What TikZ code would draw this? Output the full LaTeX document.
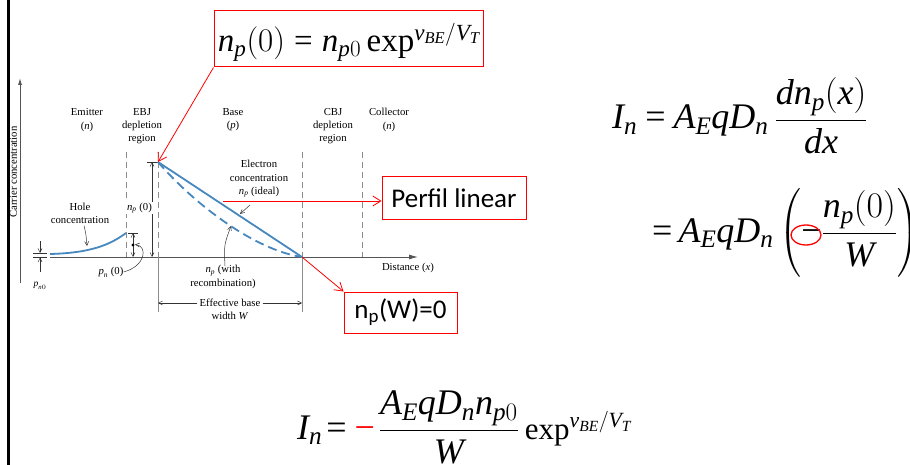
\RequirePackage{fix-cm}
\documentclass[tikz,border=0pt]{standalone}
\usepackage{amsmath}
\usepackage{fontspec}
\setmainfont{Liberation Serif}[ItalicFont={Liberation Serif Italic}]
\newfontfamily\calibri{Carlito}
\usetikzlibrary{arrows.meta,shapes.geometric}
\definecolor{cblue}{RGB}{70,135,190}
\definecolor{axgray}{RGB}{85,85,85}
\definecolor{dgray}{RGB}{140,140,140}
\newcommand\mi[1]{\textit{#1}}
\newcommand\expo{\text{exp}}
\newcommand\teq{\mathrel{\text{=}}}
\newcommand\tminus{\text{−}}
\begin{document}
\begin{tikzpicture}[x=1pt,y=-1pt,
  lbl/.style={font=\fontsize{10.7}{13.2}\selectfont, align=center, inner sep=0pt},
  blueline/.style={draw=cblue, line width=1.8pt},
  bluedash/.style={draw=cblue, line width=1.8pt, dash pattern=on 9pt off 5pt},
  gdash/.style={draw=dgray, line width=0.9pt, dash pattern=on 6pt off 4pt},
  gsolid/.style={draw=dgray, line width=0.9pt},
  axis/.style={draw=axgray, line width=0.9pt},
  dimarrow/.style={draw=black!80, line width=0.5pt, -{Straight Barb[length=4pt,width=4pt]}},
  dimboth/.style={draw=black!80, line width=0.5pt, {Straight Barb[length=4pt,width=4pt]}-{Straight Barb[length=4pt,width=4pt]}},
  redbox/.style={draw=red, line width=1pt, inner sep=0pt},
  redarrow/.style={draw=red, line width=0.8pt, -{Straight Barb[length=8pt,width=10pt]}},
  eqn/.style={font=\fontsize{36}{44}\selectfont, inner sep=0pt, anchor=base west},
]
\useasboundingbox (0,0) rectangle (910,465);

% left thick rule
\draw[line width=3pt] (8.7,0) -- (8.7,465);

% axes
\coordinate (ybot) at (20,283);
\coordinate (ytop) at (20,78);
\draw[axis, -{Latex[length=7pt,width=4pt]}] (ybot) -- (ytop);
\node[lbl, rotate=90] (carrier) at (13.5,172) {Carrier concentration};
\coordinate (xstart) at (50,257);
\coordinate (xend) at (418,257);
\draw[axis, -{Latex[length=9pt,width=5pt]}] (xstart) -- (xend);
\node[lbl] (dist) at (408,268) {Distance (\textit{x})};

% region boundaries
\draw[gdash] (126,152) -- (126,257);
\draw[gdash] (158,152) -- (158,257);
\draw[gdash] (302,152) -- (302,257);
\draw[gdash] (362,152) -- (362,257);
\draw[gsolid] (158,257) -- (158,312);
\draw[gsolid] (302,257) -- (302,312);

% region labels
\node[lbl] (emit) at (87,120) {Emitter\\(\textit{n})};
\node[lbl] (ebj) at (142,126) {EBJ\\depletion\\region};
\node[lbl] (base) at (233,120) {Base\\(\textit{p})};
\node[lbl] (cbj) at (333,126) {CBJ\\depletion\\region};
\node[lbl] (coll) at (389,120) {Collector\\(\textit{n})};

% hole concentration
\draw[blueline] (50,254) .. controls (90,253) and (110,245) .. (126,233);
\node[lbl] (hole) at (80,213) {Hole\\concentration};
\coordinate (holetip) at (87,246);
\draw[dimarrow] (hole.south) ++(4,2) .. controls (86,234) .. (holetip);

% pn0 markers
\draw[black!80, line width=0.5pt] (33,253) -- (47,253);
\draw[black!80, line width=0.5pt] (33,257.5) -- (47,257.5);
\coordinate (pa) at (40,241);
\coordinate (pb) at (40,253);
\coordinate (pc) at (40,272);
\coordinate (pd) at (40,257.5);
\draw[dimarrow] (pa) -- (pb);
\draw[dimarrow] (pc) -- (pd);
\node[lbl, font=\fontsize{9.5}{11}\selectfont] (pn0) at (40,286) {$\mi{p}_{\mi{n}0}$};

% pn(0)
\draw[black!80, line width=0.5pt] (128,233) -- (138,233);
\coordinate (pntop) at (133,233);
\coordinate (pnbot) at (133,257);
\draw[dimboth] (pntop) -- (pnbot);
\fill (133,245) circle (1.6pt);
\node[lbl] (pnlbl) at (111,272) {$\mi{p}_{\mi{n}}$ (0)};
\coordinate (pndot) at (135,244.5);
\draw[dimarrow] (pnlbl.east) .. controls (146,266) and (148,246) .. (pndot);

% np(0)
\coordinate (peak) at (158,162);
\draw[black!80, line width=0.5pt] (147,162) -- (158,162);
\coordinate (nptop) at (152,162);
\coordinate (npbot) at (152,257);
\draw[dimboth] (nptop) -- (npbot);
\node[lbl, fill=white, inner sep=1pt] (nplbl) at (139.5,208) {$\mi{n}_{\mi{p}}$ (0)};

% electron profiles
\coordinate (wend) at (302,257);
\draw[blueline] (peak) -- (wend);
\draw[bluedash] (peak) .. controls (195,205) and (255,250) .. (wend);
\node[lbl] (elec) at (259,179) {Electron\\concentration\\$\mi{n}_{\mi{p}}$ (ideal)};
\coordinate (eltip) at (240,214);
\draw[dimarrow] (250,205) -- (eltip);
\node[lbl] (recomb) at (223,277) {$\mi{n}_{\mi{p}}$ (with\\recombination)};
\coordinate (rectip) at (231,226);
\draw[dimarrow] (225,266) .. controls (224,245) .. (rectip);

% effective base width
\node[lbl, fill=white, inner sep=2pt] (eff) at (230,303) {Effective base};
\node[lbl] (effw) at (230,316) {width \textit{W}};
\coordinate (wl) at (158,303);
\coordinate (wr) at (302,303);
\draw[dimarrow] (eff.west) -- (wl);
\draw[dimarrow] (eff.east) -- (wr);

% red annotations
\node[redbox, minimum width=269pt, minimum height=56pt] (topbox) at (348.5,39) {};
\node[font=\fontsize{33}{40}\selectfont, inner sep=0pt, anchor=base] (topeq) at (349,52)
  {\thickmuskip=5mu$\mi{n}_{\mi{p}}(0)\teq\mi{n}_{\mi{p}0}\,\expo^{\mi{v}_{\mi{BE}}/\mi{V}_{\mi{T}}}$};
\draw[redarrow] (topbox.south west) -- (peak);

\node[redbox, minimum width=144pt, minimum height=43pt, font=\calibri\fontsize{27}{32}\selectfont] (perfil) at (454,198.5) {Perfil linear};
\coordinate (pstart) at (223,201);
\draw[redarrow] (pstart) -- (perfil.west |- pstart);

\node[redbox, minimum width=113pt, minimum height=41pt, font=\calibri\fontsize{27}{32}\selectfont] (npw) at (400.5,312.5) {n$_{\text{p}}$(W)=0};
\draw[redarrow] (wend) -- (npw.north west);

% right equations
\node[eqn] (eq1) at (612,129) {\thickmuskip=4mu$\mi{I}_{\mi{n}}\teq\mi{A}_{\mi{E}}\mi{q}\mi{D}_{\mi{n}}\,\dfrac{\mi{d}\mi{n}_{\mi{p}}(\mi{x})}{\mi{d}\mi{x}}$};
\node[eqn] (eq2) at (652,242) {\thickmuskip=3mu$\teq\mi{A}_{\mi{E}}\mi{q}\mi{D}_{\mi{n}}\left(\tminus\dfrac{\mi{n}_{\mi{p}}(0)}{\mi{W}}\right)$};
\node[draw=red, line width=1.3pt, ellipse, minimum width=30pt, minimum height=20pt, inner sep=0pt] (minus) at (806,235) {};

% bottom equation
\node[eqn] (eq3) at (297,439) {\thickmuskip=2mu$\mi{I}_{\mi{n}}\teq\;{\color{red}\tminus}\;\dfrac{\mi{A}_{\mi{E}}\mi{q}\mi{D}_{\mi{n}}\mi{n}_{\mi{p}0}}{\mi{W}}\,\text{\fontsize{31}{31}\selectfont$\expo^{\mi{v}_{\mi{BE}}/\mi{V}_{\mi{T}}}$}$};
\end{tikzpicture}
\end{document}
